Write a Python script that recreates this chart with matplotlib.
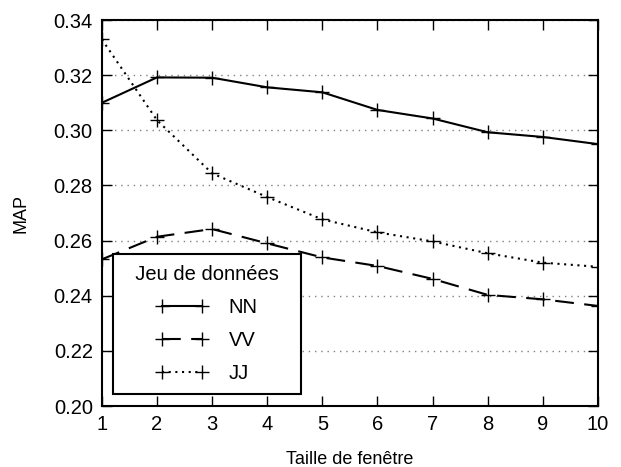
import numpy as np
import matplotlib.pyplot as plt

plt.rcParams['font.family'] = ['Liberation Sans', 'DejaVu Sans']

# Donnees
taille = np.arange(1, 11)
nn = [0.310, 0.3192, 0.3191, 0.3156, 0.3138, 0.3074, 0.3043, 0.2993, 0.2976, 0.2950]
vv = [0.2532, 0.2614, 0.2642, 0.2590, 0.2539, 0.2508, 0.2461, 0.2403, 0.2387, 0.2363]
jj = [0.333, 0.3037, 0.2844, 0.2758, 0.2677, 0.2630, 0.2597, 0.2554, 0.2520, 0.2505]
yticks = np.arange(0.20, 0.341, 0.02)

fig = plt.figure(figsize=(6.21, 4.67), dpi=100)
ax = fig.add_axes([0.164, 0.1306, 0.799, 0.8264])

kw = dict(color='black', marker='+', markersize=10, markeredgewidth=1.0, linewidth=1.5)
ax.plot(taille, nn, linestyle='-', label='NN', **kw)
ax.plot(taille, vv, linestyle=(0, (9, 5)), label='VV', **kw)
ax.plot(taille, jj, linestyle=(0, (1, 2.2)), label='JJ', **kw)

ax.set_xlim(1, 10)
ax.set_ylim(0.20, 0.34)
ax.set_xticks(taille)
ax.set_yticks(yticks)
ax.set_yticklabels(['%.2f' % v for v in yticks])
ax.tick_params(direction='in', length=7, width=1, top=True, right=True, labelsize=14.5, pad=6.5)
ax.yaxis.grid(True, linestyle=(0, (1, 3.5)), color='gray', linewidth=1)
for s in ax.spines.values():
    s.set_linewidth(1.5)

ax.set_xlabel('Taille de fenêtre', fontsize=13, labelpad=12)
ax.set_ylabel('MAP', fontsize=13, labelpad=17)

# espaces autour du titre pour elargir le cadre comme l'original
leg = ax.legend(title='  Jeu de données  ', loc='lower left', bbox_to_anchor=(0.022, 0.031),
                borderaxespad=0, fontsize=14.5, title_fontsize=14.5, fancybox=False,
                framealpha=1, edgecolor='black', numpoints=2, handlelength=2.6,
                handletextpad=1.0, borderpad=0.55, labelspacing=0.7)
leg.get_frame().set_linewidth(1.5)

fig.savefig('out.png', dpi=100)
